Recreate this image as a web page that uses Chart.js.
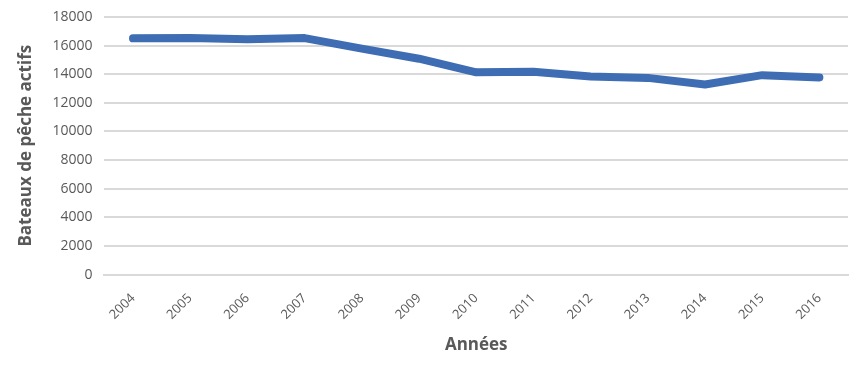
<!DOCTYPE html>
<html>
<head>
<meta charset="utf-8">
<script src="https://cdn.jsdelivr.net/npm/chart.js@4"></script>
<style>
  html, body { margin: 0; padding: 0; background: #fff; }
  #wrap { width: 864px; height: 367px; }
</style>
</head>
<body>
<div id="wrap"><canvas id="chart1"></canvas></div>
<script>
const years = ["2004", "2005", "2006", "2007", "2008", "2009", "2010", "2011", "2012", "2013", "2014", "2015", "2016"];
const boats = [16500, 16520, 16430, 16520, 15780, 15080, 14130, 14170, 13830, 13740, 13280, 13930, 13770];
const yTitle = "Bateaux de pêche actifs";
const xTitle = "Années";

const fontFam = "'Open Sans', 'Liberation Sans', sans-serif";

const data = {
  labels: years,
  datasets: [
    {
      label: yTitle,
      data: boats,
      borderColor: "#3f6db3",
      backgroundColor: "#3f6db3",
      borderWidth: 8,
      pointRadius: 0,
      borderCapStyle: "round",
      borderJoinStyle: "round",
      tension: 0,
    },
  ]
};

const config = {
  type: "line",
  data: data,
  options: {
    responsive: true,
    maintainAspectRatio: false,
    animation: false,
    layout: {
      padding: { left: 12, right: 16, top: 0, bottom: 12 },
    },
    plugins: {
      legend: { display: false },
      tooltip: { enabled: false },
    },
    scales: {
      x: {
        offset: true,
        grid: { display: false },
        border: { display: true, color: "#d9d9d9", width: 2 },
        title: {
          display: true,
          text: xTitle,
          color: "#595959",
          font: { family: fontFam, size: 17, weight: "bold" },
          padding: { top: 4, bottom: 0 },
        },
        ticks: {
          color: "#595959",
          font: { family: fontFam, size: 13 },
          minRotation: 45,
          maxRotation: 45,
          padding: 8,
        },
      },
      y: {
        min: 0,
        max: 18000,
        border: { display: false },
        title: {
          display: true,
          text: yTitle,
          color: "#595959",
          font: { family: fontFam, size: 17, weight: "bold" },
          padding: { bottom: 4 },
        },
        ticks: {
          stepSize: 2000,
          color: "#595959",
          font: { family: fontFam, size: 14, lineHeight: 0.7 },
          padding: 12,
          callback: (v) => String(v),
        },
        grid: {
          color: "#d9d9d9",
          lineWidth: 2,
          drawTicks: false,
        },
      },
    },
  }
};

const myChart1 = new Chart(document.getElementById("chart1"), config);
</script>
</body>
</html>
